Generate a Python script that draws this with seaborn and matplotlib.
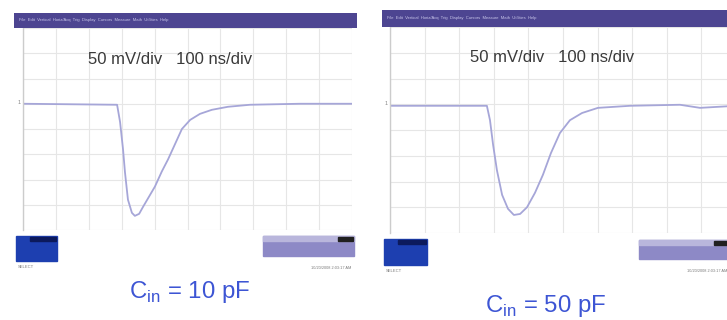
import numpy as np
import pandas as pd
import matplotlib
matplotlib.use('Agg')
import matplotlib.pyplot as plt
import seaborn as sns
from matplotlib.patches import Rectangle

# scope traces, time in ns and signal in mV (baseline = 0)
t_10pf = [0, 286, 295, 304, 310, 319, 331, 340, 353, 365, 383, 401, 422, 441, 462, 483,
          508, 538, 574, 623, 690, 842, 1000]
v_10pf = [0, -2, -36, -90, -136, -190, -216, -222, -218, -204, -184, -164, -134, -110, -80, -50,
          -32, -20, -12, -6, -2, 0, 0]
t_50pf = [0, 280, 289, 298, 309, 324, 341, 358, 376, 396, 419, 442, 465, 491, 520, 555,
          601, 694, 838, 896, 1000]
v_50pf = [-3, -3, -31, -79, -128, -176, -203, -215, -213, -200, -172, -137, -95, -56, -31, -17,
          -7, -3, -1, -7, -3]

scale_text = "50 mV/div   100 ns/div"
cap_labels = [r"C$_{\mathregular{in}}$ = 10 pF", r"C$_{\mathregular{in}}$ = 50 pF"]
menu_text = "File  Edit  Vertical  Horiz/Acq  Trig  Display  Cursors  Measure  Math  Utilities  Help"

sns.set_style('white')
plt.rcParams['font.family'] = ['Liberation Sans', 'DejaVu Sans']
plt.rcParams['mathtext.fontset'] = 'custom'
plt.rcParams['mathtext.rm'] = 'Liberation Sans'

fig = plt.figure(figsize=(7.27, 3.2), dpi=100)
W, H = 727.0, 320.0

def px_rect(x0, y0, x1, y1):
    # pixel box -> figure fraction [left, bottom, width, height]
    return [x0 / W, 1 - y1 / H, (x1 - x0) / W, (y1 - y0) / H]

panels = [
    dict(t=t_10pf, v=v_10pf, ax=(23, 28, 352, 230), bar=(14, 13, 357, 28),
         txt=(88, 59), cap=(190, 292), box=(16, 236, 57, 261), info=(263, 236, 354, 256)),
    dict(t=t_50pf, v=v_50pf, ax=(390, 27, 736, 233), bar=(382, 10, 740, 27),
         txt=(470, 58), cap=(546, 306), box=(384, 239, 427, 265), info=(639, 240, 740, 259)),
]

for i, p in enumerate(panels):
    ax = fig.add_axes(px_rect(*p['ax']))
    df = pd.DataFrame({'t': p['t'], 'v': p['v']})
    sns.lineplot(data=df, x='t', y='v', ax=ax, color='#a6a6d8', linewidth=1.3,
                 solid_joinstyle='round')
    ax.set_xlim(0, 1000)
    ax.set_ylim(-250, 150)
    ax.set_xticks(np.arange(0, 1001, 100))
    ax.set_yticks(np.arange(-250, 151, 50))
    ax.grid(True, color='#e6e6e6', linewidth=0.8)
    ax.tick_params(length=0, labelbottom=False, labelleft=False)
    ax.set_xlabel('')
    ax.set_ylabel('')
    for s in ['top', 'right', 'bottom']:
        ax.spines[s].set_visible(False)
    ax.spines['left'].set_color('#cccccc')
    ax.spines['left'].set_linewidth(1.0)
    ax.set_facecolor('white')
    ax.text(-0.008, 0.63, '1', transform=ax.transAxes, fontsize=4, color='#888888',
            ha='right', va='center')

    # menu bar
    bar = fig.add_axes(px_rect(*p['bar']))
    bar.set_facecolor('#4d4591')
    bar.set_xticks([]); bar.set_yticks([])
    for s in bar.spines.values():
        s.set_visible(False)
    bar.text(0.015, 0.5, menu_text, fontsize=3, color='#c9c6ea', va='center', ha='left',
             transform=bar.transAxes)

    # text labels
    fig.text(p['txt'][0] / W, 1 - p['txt'][1] / H, scale_text, fontsize=12,
             color='#3a3a3a', ha='left', va='center')
    fig.text(p['cap'][0] / W, 1 - p['cap'][1] / H, cap_labels[i], fontsize=17.3,
             color='#3d55d4', ha='center', va='center')

    # blue select box
    x0, y0, x1, y1 = p['box']
    fig.patches.append(Rectangle((x0 / W, 1 - y1 / H), (x1 - x0) / W, (y1 - y0) / H,
                                 transform=fig.transFigure, color='#1d3fb0', zorder=1))
    fig.patches.append(Rectangle(((x0 + 14) / W, 1 - (y0 + 5) / H), (x1 - x0 - 15) / W, 4 / H,
                                 transform=fig.transFigure, color='#0c1a5c', zorder=2))
    fig.text(x0 / W + 0.003, 1 - (y1 + 6) / H, 'SELECT', fontsize=3, color='#7a7a7a',
             ha='left', va='center')

    # readout panel
    x0, y0, x1, y1 = p['info']
    fig.patches.append(Rectangle((x0 / W, 1 - y1 / H), (x1 - x0) / W, (y1 - y0) / H,
                                 transform=fig.transFigure, color='#8d89c6', zorder=1))
    fig.patches.append(Rectangle((x0 / W, 1 - (y0 + 5) / H), (x1 - x0) / W, 5 / H,
                                 transform=fig.transFigure, color='#b9b6dc', zorder=2))
    fig.patches.append(Rectangle(((x0 + 75) / W, 1 - (y0 + 5) / H), 15 / W, 4 / H,
                                 transform=fig.transFigure, color='#202020', zorder=3))
    fig.text((x0 + 88) / W, 1 - (y1 + 12) / H, '10/20/2008 2:03:17 AM', fontsize=2.8,
             color='#7a7a7a', ha='right', va='center')

plt.savefig('out.png', dpi=100, facecolor='white')
